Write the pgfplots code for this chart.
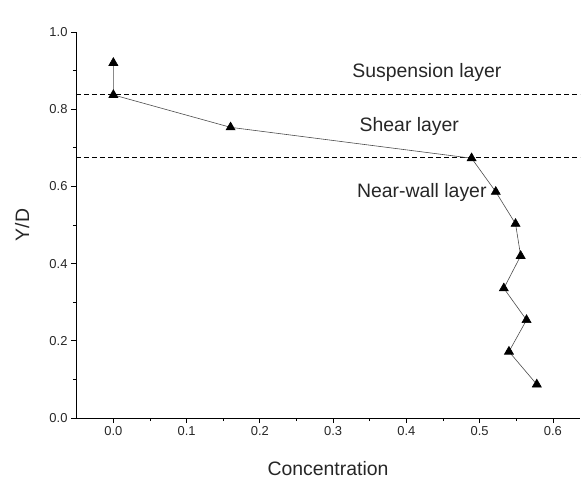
\documentclass[border=0pt]{standalone}
\usepackage{fontspec}
\setmainfont{Liberation Sans}
\usepackage{pgfplots}
\pgfplotsset{compat=1.18}
\begin{document}
\begin{tikzpicture}[x=1bp,y=1bp]
\path (-76,-60) rectangle (506,418);
\begin{axis}[
  scale only axis,
  width=504bp, height=386bp,
  at={(0,0)}, anchor=south west,
  xmin=-0.051, xmax=0.637,
  ymin=0, ymax=1.0,
  axis x line*=bottom, axis y line*=left,
  axis line style={line width=0.8bp},
  tick align=outside,
  major tick length=5bp, minor tick length=3bp,
  tick style={line width=0.8bp, black},
  xtick={0,0.1,0.2,0.3,0.4,0.5,0.6},
  ytick={0,0.2,0.4,0.6,0.8,1.0},
  minor tick num=1,
  /pgf/number format/assume math mode=true,
  xticklabel style={/pgf/number format/.cd, fixed, fixed zerofill, precision=1},
  yticklabel style={/pgf/number format/.cd, fixed, fixed zerofill, precision=1},
  ticklabel style={font=\fontsize{13}{15}\selectfont, text=black!85},
  xlabel={Concentration}, ylabel={Y/D},
  label style={font=\fontsize{19.5}{22}\selectfont, text=black!85},
  x label style={at={(axis description cs:0.5,-0.13)}, anchor=center},
  y label style={at={(axis description cs:-0.107,0.5)}, anchor=center, rotate=0},
  clip=false,
]
\addplot[black, dashed, line width=0.9bp, dash pattern=on 5bp off 3bp] coordinates {(-0.051,0.838) (0.637,0.838)};
\addplot[black, dashed, line width=0.9bp, dash pattern=on 5bp off 3bp] coordinates {(-0.051,0.675) (0.637,0.675)};
\addplot[black!70, line width=0.6bp, mark=triangle*, mark size=5.2bp, mark options={fill=black, draw=black, solid}] coordinates {
(0.000,0.920)
(0.000,0.837)
(0.160,0.753)
(0.489,0.673)
(0.522,0.586)
(0.549,0.503)
(0.556,0.420)
(0.533,0.336)
(0.564,0.254)
(0.540,0.172)
(0.578,0.087)
};
\node[font=\fontsize{19.5}{22}\selectfont, text=black!85] at (axis cs:0.428,0.896) {Suspension layer};
\node[font=\fontsize{19.5}{22}\selectfont, text=black!85] at (axis cs:0.404,0.754) {Shear layer};
\node[font=\fontsize{19.5}{22}\selectfont, text=black!85] at (axis cs:0.421,0.583) {Near-wall layer};
\end{axis}
\end{tikzpicture}
\end{document}
